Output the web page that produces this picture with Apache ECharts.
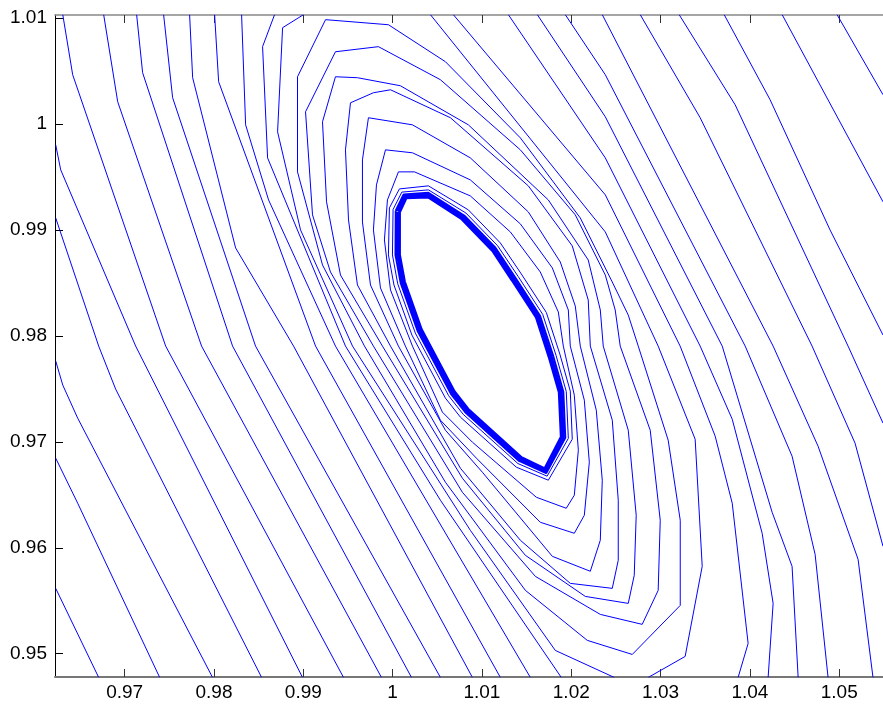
<!DOCTYPE html>
<html>
<head>
<meta charset="utf-8">
<script src="https://cdn.jsdelivr.net/npm/echarts@6/dist/echarts.min.js"></script>
<style>
  html, body { margin: 0; padding: 0; background: #fff; }
  #chart { width: 883px; height: 706px; }
</style>
</head>
<body>
<div id="chart"></div>
<script>
// Axis ranges and tick values
const xRange = [0.9622, 1.0549];
const yRange = [0.9478, 1.0103];
const xTicks = [0.97, 0.98, 0.99, 1.00, 1.01, 1.02, 1.03, 1.04, 1.05];
const yTicks = [0.95, 0.96, 0.97, 0.98, 0.99, 1.00, 1.01];

// Outer trajectory arms on the left side (top/left edge down to bottom edge)
const leftArms = [
  [[0.96228,0.95617],[0.96709,0.94776]],
  [[0.96228,0.96846],[0.96474,0.96421],[0.97392,0.94776]],
  [[0.96228,0.97763],[0.96307,0.97536],[0.96474,0.97224],[0.97984,0.94776]],
  [[0.96228,0.99114],[0.96709,0.97904],[0.96899,0.97498],[0.98533,0.94776]],
  [[0.96228,0.99804],[0.96284,0.99568],[0.97123,0.97904],[0.98991,0.94776]],
  [[0.96307,1.01033],[0.96418,1.00466],[0.97459,0.97904],[0.99450,0.94776]],
  [[0.96765,1.01033],[0.96922,1.00211],[0.97861,0.97904],[0.99875,0.94776]],
  [[0.97134,1.01033],[0.97201,1.00485],[0.98208,0.97904],[1.00211,0.94776]],
  [[0.97436,1.01033],[0.97537,1.00249],[0.98465,0.97904],[1.00535,0.94776]],
  [[0.97727,1.01033],[0.97761,1.00438],[0.98242,0.98831],[0.98891,0.97904],[1.00893,0.94776]],
  [[0.98007,1.01033],[0.98052,1.00400],[0.99137,0.97904],[1.01206,0.94776]],
  [[0.98309,1.01033],[0.98354,0.99993],[0.98611,0.99284],[0.99360,0.97904],[1.01542,0.94776]],
  [[0.98678,1.01033],[0.98544,1.00731],[0.98600,0.99681],[0.99472,0.97904],[1.00535,0.96449],[1.01888,0.94776]],
  [[0.99002,1.01033],[0.98768,1.00910],[0.98712,0.99927],[0.98969,0.99001],[0.99551,0.97904],[1.00870,0.96165],[1.01821,0.95031],[1.02481,0.94776]]
];

// Outer trajectory arms on the right side (top edge down to right/bottom edge)
const rightArms = [
  [[1.04976,1.01033],[1.05490,1.00277]],
  [[1.04361,1.01033],[1.05490,0.99266]],
  [[1.03712,1.01033],[1.04226,1.00230],[1.04897,0.99001],[1.05490,0.98008]],
  [[1.03208,1.01033],[1.03835,1.00182],[1.05099,0.97904],[1.05490,0.97177]],
  [[1.02772,1.01033],[1.03443,1.00060],[1.04696,0.97904],[1.05177,0.96988],[1.05490,0.96014]],
  [[1.02347,1.01033],[1.04260,0.97904],[1.04763,0.96959],[1.05211,0.95891],[1.05378,0.94776]],
  [[1.01933,1.01033],[1.02381,1.00466],[1.03947,0.97904],[1.04472,0.96865],[1.04730,0.95938],[1.04875,0.94776]],
  [[1.01620,1.01033],[1.02381,1.00069],[1.03690,0.97904],[1.04249,0.96335],[1.04472,0.95825],[1.04540,0.94776]],
  [[1.01296,1.01033],[1.02381,0.99681],[1.03443,0.97904],[1.03802,0.97214],[1.04137,0.96137],[1.04260,0.95475],[1.04204,0.94776]],
  [[1.00680,1.01033],[1.02381,0.99332],[1.03219,0.97904],[1.03611,0.97054],[1.03802,0.96421],[1.03980,0.95097],[1.03868,0.94776]],
  [[1.00423,1.01033],[1.02381,0.98982],[1.02973,0.97904],[1.03387,0.97025],[1.03466,0.95825],[1.03275,0.94974],[1.02862,0.94776]]
];

// Complete turns around the attractor, outermost first
const innerTurns = [
  [[0.99249,1.00986],[0.99953,1.00938],[1.00591,1.00589],[1.01430,0.99870],[1.02101,0.99114],[1.02459,0.98509],[1.02638,0.98197],[1.02750,0.97904],[1.03085,0.97016],[1.03220,0.96260],[1.03220,0.95456],[1.02683,0.94993],[1.02179,0.95126],[1.01486,0.95598],[1.00591,0.96619],[0.99685,0.97904],[0.99215,0.98670],[0.98935,0.99549],[0.98935,1.00447],[0.99249,1.00986]],
  [[0.99360,1.00683],[0.99841,1.00731],[1.00535,1.00419],[1.01430,0.99757],[1.02045,0.99143],[1.02381,0.98575],[1.02492,0.98245],[1.02548,0.97904],[1.02884,0.97110],[1.02996,0.96260],[1.02973,0.95598],[1.02794,0.95277],[1.02325,0.95371],[1.01598,0.95730],[1.00781,0.96524],[0.99785,0.97904],[0.99304,0.98604],[0.99103,0.99143],[0.99025,1.00116],[0.99360,1.00683]],
  [[0.99360,1.00447],[0.99606,1.00438],[1.00087,1.00362],[1.00848,0.99993],[1.01743,0.99284],[1.02190,0.98717],[1.02325,0.98245],[1.02358,0.97904],[1.02638,0.97110],[1.02727,0.96307],[1.02705,0.95740],[1.02638,0.95475],[1.02157,0.95541],[1.01486,0.95929],[1.00781,0.96657],[0.99886,0.97904],[0.99416,0.98575],[0.99260,0.99266],[0.99215,1.00022],[0.99360,1.00447]],
  [[0.99528,1.00201],[0.99785,1.00296],[0.99976,1.00324],[1.00647,1.00060],[1.01519,0.99417],[1.02011,0.98850],[1.02190,0.98339],[1.02213,0.97904],[1.02459,0.97205],[1.02526,0.96449],[1.02526,0.95882],[1.02459,0.95617],[1.01989,0.95664],[1.01430,0.96071],[1.00759,0.96751],[0.99976,0.97904],[0.99606,0.98481],[0.99506,0.99095],[0.99472,0.99757],[0.99528,1.00201]],
  [[0.99729,1.00060],[1.00222,0.99993],[1.00870,0.99681],[1.01519,0.99171],[1.01877,0.98698],[1.02045,0.98282],[1.02101,0.97904],[1.02280,0.97299],[1.02347,0.96638],[1.02325,0.96071],[1.02213,0.95778],[1.01788,0.95919],[1.01005,0.96713],[1.00591,0.97110],[1.00065,0.97904],[0.99752,0.98481],[0.99662,0.99076],[0.99662,0.99662],[0.99729,1.00060]],
  [[0.99920,0.99757],[1.00222,0.99729],[1.00870,0.99473],[1.01430,0.99058],[1.01788,0.98642],[1.01967,0.98245],[1.01989,0.97904],[1.02146,0.97394],[1.02202,0.96808],[1.02146,0.96307],[1.02034,0.96137],[1.01653,0.96241],[1.00938,0.96846],[1.00535,0.97205],[1.00143,0.97904],[0.99864,0.98453],[0.99785,0.99001],[0.99819,0.99426],[0.99920,0.99757]],
  [[1.00065,0.99549],[1.00244,0.99549],[1.00870,0.99322],[1.01318,0.98982],[1.01653,0.98604],[1.01855,0.98226],[1.01911,0.97904],[1.02034,0.97441],[1.02079,0.96921],[1.02034,0.96496],[1.01944,0.96373],[1.01609,0.96477],[1.00893,0.96997],[1.00557,0.97281],[1.00222,0.97904],[0.99976,0.98434],[0.99908,0.98906],[0.99942,0.99284],[1.00065,0.99549]]
];

// Closely packed passes just outside the limit cycle
const denseTurns = [
  [[0.99964,0.99209],[1.00076,0.99388],[1.00401,0.99417],[1.00848,0.99190],[1.01206,0.98878],[1.01441,0.98585],[1.01721,0.98221],[1.01872,0.97829],[1.01989,0.97479],[1.02011,0.97025],[1.01743,0.96638],[1.01385,0.96761],[1.00759,0.97233],[1.00591,0.97413],[1.00216,0.98008],[1.00015,0.98481],[0.99953,0.98765],[0.99964,0.99209]],
  [[1.00005,0.99194],[1.00103,0.99358],[1.00401,0.99379],[1.00821,0.99160],[1.01175,0.98852],[1.01405,0.98562],[1.01680,0.98204],[1.01829,0.97818],[1.01944,0.97475],[1.01967,0.97033],[1.01730,0.96676],[1.01403,0.96795],[1.00790,0.97260],[1.00627,0.97436],[1.00254,0.98027],[1.00057,0.98492],[0.99998,0.98765],[1.00005,0.99194]],
  [[1.00035,0.99182],[1.00123,0.99335],[1.00401,0.99351],[1.00801,0.99137],[1.01151,0.98832],[1.01378,0.98545],[1.01650,0.98191],[1.01798,0.97809],[1.01911,0.97472],[1.01933,0.97039],[1.01719,0.96704],[1.01416,0.96820],[1.00813,0.97280],[1.00653,0.97453],[1.00283,0.98041],[1.00090,0.98501],[1.00032,0.98765],[1.00035,0.99182]]
];

// Limit cycle the trajectory settles onto
const limitCycle = [
  [1.00065,0.99171],[1.00143,0.99313],[1.00401,0.99322],[1.00781,0.99114],[1.01128,0.98812],
  [1.01351,0.98528],[1.01620,0.98179],[1.01765,0.97800],[1.01877,0.97470],[1.01900,0.97044],
  [1.01709,0.96732],[1.01430,0.96846],[1.00837,0.97300],[1.00680,0.97470],[1.00311,0.98056],
  [1.00121,0.98509],[1.00065,0.98765],[1.00065,0.99171]
];

const BLUE = '#0000ff';
function lineSeries(data, width) {
  return {
    type: 'line', data: data, showSymbol: false, symbol: 'none',
    clip: true, silent: true, animation: false,
    lineStyle: { color: BLUE, width: width }
  };
}

const series = [];
leftArms.forEach(d => series.push(lineSeries(d, 1)));
rightArms.forEach(d => series.push(lineSeries(d, 1)));
innerTurns.forEach(d => series.push(lineSeries(d, 1)));
denseTurns.forEach((d, i) => series.push(lineSeries(d, i === 2 ? 2 : 1)));
series.push(lineSeries(limitCycle, 5));

const fmt = v => String(parseFloat(Number(v).toFixed(2)));
const labelFont = { fontFamily: 'Liberation Sans, Arial, sans-serif', fontSize: 19, color: '#000' };

const chart = echarts.init(document.getElementById('chart'), null, { renderer: 'canvas' });
chart.setOption({
  animation: false,
  backgroundColor: '#fff',
  grid: { left: 55, right: 0, top: 15, bottom: 29, containLabel: false },
  xAxis: [
    {
      type: 'value', position: 'bottom', min: xRange[0], max: xRange[1],
      axisLine: { show: true, lineStyle: { color: '#777', width: 2 } },
      axisTick: { show: true, inside: true, length: 8, customValues: xTicks, lineStyle: { color: '#333' } },
      axisLabel: Object.assign({ show: true, margin: 6, customValues: xTicks, formatter: fmt }, labelFont),
      splitLine: { show: false }
    },
    {
      type: 'value', position: 'top', min: xRange[0], max: xRange[1],
      axisLine: { show: true, lineStyle: { color: '#888', width: 1.5 } },
      axisTick: { show: true, inside: true, length: 8, customValues: xTicks, lineStyle: { color: '#333' } },
      axisLabel: { show: false },
      splitLine: { show: false }
    }
  ],
  yAxis: [
    {
      type: 'value', position: 'left', min: yRange[0], max: yRange[1],
      axisLine: { show: true, lineStyle: { color: '#000', width: 1 } },
      axisTick: { show: true, inside: true, length: 8, customValues: yTicks, lineStyle: { color: '#000' } },
      axisLabel: Object.assign({ show: true, margin: 8, customValues: yTicks, formatter: fmt }, labelFont),
      splitLine: { show: false }
    }
  ],
  series: series
});
</script>
</body>
</html>
